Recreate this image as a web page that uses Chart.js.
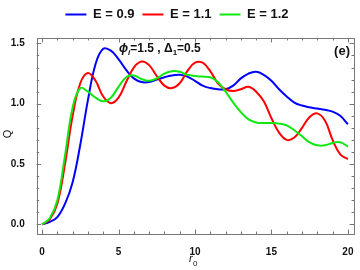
<!DOCTYPE html>
<html>
<head>
<meta charset="utf-8">
<script src="https://cdn.jsdelivr.net/npm/chart.js@4"></script>
<style>
  html, body { margin: 0; padding: 0; background: #fff; }
  #wrap { width: 360px; height: 270px; }
</style>
</head>
<body>
<div id="wrap"><canvas id="grafico" width="360" height="270"></canvas></div>
<script>
// r0 values (x axis)
const r0 = [0, 0.5, 1, 1.5, 2, 2.5, 3, 3.5, 4, 4.5, 5, 5.5, 6, 6.5, 7, 7.5, 8, 8.5, 9, 9.5,
  10, 10.5, 11, 11.5, 12, 12.5, 13, 13.5, 14, 14.5, 15, 15.5, 16, 16.5, 17, 17.5, 18, 18.5, 19, 19.5, 20];

const qE09 = [0, 0.02, 0.06, 0.17, 0.35, 0.66, 1.03, 1.33, 1.455, 1.44, 1.37, 1.28, 1.21, 1.18, 1.18, 1.2, 1.22, 1.235, 1.24, 1.225,
  1.19, 1.15, 1.13, 1.12, 1.12, 1.15, 1.21, 1.25, 1.265, 1.24, 1.19, 1.12, 1.06, 1.01, 0.985, 0.97, 0.96, 0.95, 0.935, 0.9, 0.83];

const qE11 = [0, 0.04, 0.17, 0.5, 0.9, 1.17, 1.255, 1.19, 1.06, 1.005, 1.05, 1.18, 1.3, 1.35, 1.32, 1.23, 1.15, 1.13, 1.17, 1.27,
  1.34, 1.34, 1.27, 1.17, 1.12, 1.105, 1.12, 1.14, 1.1, 1.02, 0.88, 0.76, 0.7, 0.72, 0.8, 0.89, 0.92, 0.86, 0.7, 0.58, 0.54];

const qE12 = [0, 0.05, 0.2, 0.57, 0.97, 1.13, 1.1, 1.05, 1.02, 1.05, 1.14, 1.22, 1.235, 1.205, 1.19, 1.21, 1.25, 1.27, 1.265, 1.24,
  1.23, 1.225, 1.22, 1.18, 1.1, 1.01, 0.93, 0.87, 0.845, 0.84, 0.84, 0.835, 0.82, 0.78, 0.73, 0.68, 0.655, 0.655, 0.675, 0.68, 0.645];

const xTicks = [0, 5, 10, 15, 20];
const yTicks = [0, 0.5, 1.0, 1.5];

const seriesLabels = ["E = 0.9", "E = 1.1", "E = 1.2"];

function pts(ys) {
  return r0.map((x, i) => ({ x: x, y: ys[i] }));
}

// frame, inward ticks and texts like the original plot
const moldura = {
  id: "moldura",
  afterDraw(chart) {
    const ctx = chart.ctx;
    const a = chart.chartArea;
    const xs = chart.scales.x;
    const ys = chart.scales.y;
    ctx.save();
    ctx.strokeStyle = "#777";
    ctx.lineWidth = 1;
    ctx.strokeRect(Math.round(a.left) + 0.5, Math.round(a.top) + 0.5,
      Math.round(a.right - a.left), Math.round(a.bottom - a.top));

    ctx.beginPath();
    for (let v = 0; v <= 20.001; v += 1) {
      const px = Math.round(xs.getPixelForValue(v)) + 0.5;
      const len = Math.abs(v % 5) < 0.01 ? 4.5 : 2.5;
      ctx.moveTo(px, a.bottom); ctx.lineTo(px, a.bottom - len);
      ctx.moveTo(px, a.top); ctx.lineTo(px, a.top + len);
    }
    for (let k = 0; k <= 15; k++) {
      const v = k / 10;
      const py = Math.round(ys.getPixelForValue(v)) + 0.5;
      const len = k % 5 === 0 ? 4.5 : 2.5;
      ctx.moveTo(a.left, py); ctx.lineTo(a.left + len, py);
      ctx.moveTo(a.right, py); ctx.lineTo(a.right - len, py);
    }
    ctx.stroke();

    ctx.fillStyle = "#111";
    ctx.textBaseline = "alphabetic";
    // annotation
    let x = 119;
    const base = 52;
    const partes = [
      ["italic bold 12px Arial", "ϕ", 0],
      ["italic bold 8px Arial", "i", 3],
      ["bold 12px Arial", "=1.5 , ", 0],
      ["bold 12px Arial", "Δ", 0],
      ["bold 8px Arial", "1", 3],
      ["bold 12px Arial", "=0.5", 0],
    ];
    partes.forEach((p) => {
      ctx.font = p[0];
      ctx.fillText(p[1], x, base + p[2]);
      x += ctx.measureText(p[1]).width;
    });
    ctx.font = "bold 13px Arial";
    ctx.textAlign = "right";
    ctx.fillText("(e)", 350, 55);

    // axis titles
    ctx.textAlign = "left";
    ctx.font = "italic 11px Arial";
    ctx.fillText("r", 189, 262);
    ctx.font = "8px Arial";
    ctx.fillText("0", 193, 266);

    ctx.save();
    ctx.translate(11, 134);
    ctx.rotate(-Math.PI / 2);
    ctx.textAlign = "center";
    ctx.font = "11px Arial";
    ctx.fillText("Q", 0, 0);
    ctx.restore();

    ctx.restore();
  },
};

const ajusteLegenda = {
  id: "ajusteLegenda",
  beforeInit(chart) {
    const fitOriginal = chart.legend.fit;
    chart.legend.fit = function () {
      fitOriginal.bind(chart.legend)();
      this.height += 7;
    };
  },
};

function desenhar() {
  const ctx = document.getElementById("grafico").getContext("2d");
  const cores = ["#0000ff", "#ff0000", "#11e811"];
  const valores = [qE09, qE11, qE12];

  new Chart(ctx, {
    type: "line",
    data: {
      datasets: valores.map((v, i) => ({
        label: seriesLabels[i],
        data: pts(v),
        borderColor: cores[i],
        backgroundColor: cores[i],
        borderWidth: 2,
        pointRadius: 0,
        tension: 0.4,
        fill: false,
        order: 3 - i,
      })),
    },
    options: {
      responsive: false,
      animation: false,
      layout: { padding: { left: 0, right: 6, top: 0, bottom: 0 } },
      plugins: {
        tooltip: { enabled: false },
        legend: {
          display: true,
          position: "top",
          labels: {
            usePointStyle: true,
            pointStyle: "line",
            pointStyleWidth: 21,
            padding: 8,
            color: "#111",
            font: { family: "Arial", size: 13, weight: "bold" },
            sort: (a, b) => a.datasetIndex - b.datasetIndex,
          },
        },
      },
      scales: {
        x: {
          type: "linear",
          min: -0.35,
          max: 20.4,
          grid: { display: false },
          border: { display: false },
          afterBuildTicks: (s) => { s.ticks = xTicks.map((v) => ({ value: v })); },
          afterFit: (s) => { s.height = 36; },
          ticks: {
            color: "#111",
            padding: 4,
            maxRotation: 0,
            font: { family: "Arial", size: 10, weight: "bold" },
            callback: (v) => String(v),
          },
        },
        y: {
          type: "linear",
          min: -0.08,
          max: 1.545,
          grid: { display: false },
          border: { display: false },
          afterBuildTicks: (s) => { s.ticks = yTicks.map((v) => ({ value: v })); },
          afterFit: (s) => { s.width = 36.7; },
          ticks: {
            color: "#111",
            padding: 4,
            font: { family: "Arial", size: 10, weight: "bold" },
            callback: (v) => Number(v).toFixed(1),
          },
        },
      },
    },
    plugins: [moldura, ajusteLegenda],
  });
}

document.addEventListener("DOMContentLoaded", desenhar);
</script>
</body>
</html>
